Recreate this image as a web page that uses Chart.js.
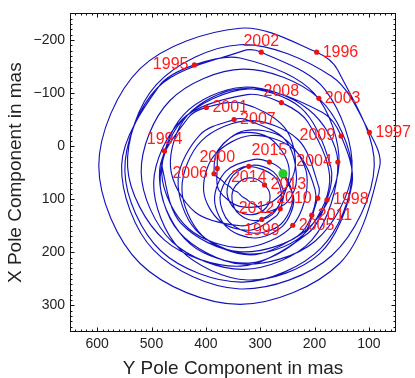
<!DOCTYPE html>
<html>
<head>
<meta charset="utf-8">
<title>Polar motion 1994-2016</title>
<script src="https://cdn.jsdelivr.net/npm/chart.js@4.4.1/dist/chart.umd.min.js"></script>
<style>
  html, body { margin: 0; padding: 0; background: #fff; }
</style>
</head>
<body>
<canvas id="pole-chart" width="415" height="378"></canvas>
<script>
// pole track in mas: Y component (horizontal axis) and X component (vertical axis)
const trackY = [
  476, 481, 446, 337, 215, 155, 201, 337,
  421, 486, 555, 496, 337, 168, 90, 157,
  196, 337, 521, 597, 521, 337, 154, 80,
  99, 168, 337, 491, 544, 476, 336, 212,
  177, 170, 225, 336, 434, 465, 420, 336,
  297, 265, 247, 281, 335, 374,
  379, 376, 335, 275, 236, 255, 334,
  399, 432, 485, 450, 334, 199, 131, 181,
  298, 333, 489, 549, 483, 332, 188, 131,
  192, 332, 466, 519, 462, 331, 205,
  157, 211, 331, 441, 481, 432, 330,
  240, 214, 258, 329, 378,
  385, 378, 371, 364, 356, 349, 341, 333, 325, 317, 308, 299, 290, 250, 233, 254, 326,
  348, 410, 451, 419, 325, 222, 172, 212,
  261, 324, 443, 496, 448, 323, 191, 131,
  151, 186, 322, 443, 484, 429, 320, 225,
  194, 192, 230, 319, 408, 444, 407, 318, 231,
  205, 199, 239, 317, 384, 404, 373, 316, 271,
  263, 257, 276, 315, 350, 361, 345, 315, 289, 282,
  292, 314, 339, 352, 343, 313, 278, 261, 274,
  321, 355, 374, 357, 311, 262, 240, 259,
  283, 311, 363, 384, 362, 310, 259, 238,
  258
];
const trackX = [
  9, 36, 145, 199, 158, 36, -100, -166,
  -153, -113, 36, 196, 269, 206, 37, -143,
  -177, -222, -146, 37, 221, 298, 221, 38,
  -26, -131, -191, -116, 39, 177, 226, 164,
  101, 39, -72, -108, -58, 40, 124, 150,
  138, 111, 41, -14, -25, 3,
  42, 83, 114, 103, 43, -35, -81,
  -73, -54, 44, 161, 222, 179, 46, -107,
  -177, -179, -110, 47, 197, 256, 192, 48,
  -90, -145, -86, 49, 180, 232, 177,
  30, -69, -111, -59, 53, 155, 191,
  149, 55, -16, -29, 8,
  52, 59, 64, 71, 76, 83, 87, 95, 100, 107, 111, 119, 125, 105, 61, -12, -50,
  -50, -22, 63, 157, 203, 168, 66, -45,
  -82, -97, -51, 69, 194, 252, 203, 72,
  -19, -64, -108, -49, 74, 184, 220, 172,
  98, 77, -12, -48, -10, 80, 168, 205, 169,
  130, 82, 5, -20, 17, 85, 142, 158, 132,
  118, 87, 48, 36, 55, 89, 120, 129, 116, 92,
  73, 60, 68, 93, 124, 140, 129, 95, 57,
  38, 54, 97, 143, 164, 147, 98, 47,
  30, 25, 47, 100, 152, 173, 151, 101,
  52
];

// pole position on 1 January of each year
const years = [1994, 1995, 1996, 1997, 1998, 1999, 2000, 2001, 2002, 2003, 2004,
               2005, 2006, 2007, 2008, 2009, 2010, 2011, 2012, 2013, 2014, 2015];
const yearY = [476, 421, 196, 99, 177, 297, 379, 399, 298, 192, 157,
               240, 385, 348, 261, 151, 194, 205, 263, 292, 321, 283];
const yearX = [9, -153, -177, -26, 101, 138, 42, -73, -177, -90, 30,
               149, 52, -50, -82, -19, 98, 130, 118, 73, 38, 30];

// latest position
const latestY = [258];
const latestX = [52];

const xTicks = [100, 200, 300, 400, 500, 600];
const yTicks = [-200, -100, 0, 100, 200, 300];

// where each year label sits relative to its dot
const labelSide = {
  1994: 'above', 1995: 'left', 1996: 'right', 1997: 'right', 1998: 'right',
  1999: 'below', 2000: 'above', 2001: 'right', 2002: 'above', 2003: 'right',
  2004: 'left', 2005: 'right', 2006: 'left', 2007: 'right', 2008: 'above',
  2009: 'left', 2010: 'left', 2011: 'right', 2012: 'left', 2013: 'right',
  2014: 'below', 2015: 'above'
};

const FONT = '"Liberation Sans", Arial, Helvetica, sans-serif';

const toPoints = (xs, ys) => xs.map((v, i) => ({ x: v, y: ys[i] }));

// frame with inward ticks on all four sides, then the year labels on top
const frameAndLabels = {
  id: 'frameAndLabels',
  afterDraw(chart) {
    const { ctx, chartArea: a, scales: { x, y } } = chart;
    const L = Math.round(a.left) + 0.5, R = Math.round(a.right) - 0.5;
    const T = Math.round(a.top) + 0.5, B = Math.round(a.bottom) - 0.5;
    ctx.save();
    ctx.strokeStyle = '#111';
    ctx.lineWidth = 1;
    ctx.strokeRect(L, T, R - L, B - T);
    ctx.beginPath();
    for (let v = 50; v <= 650; v += 10) {
      const px = Math.round(x.getPixelForValue(v)) + 0.5;
      if (px <= L || px >= R) continue;
      const len = v % 100 === 0 ? 4 : 2;
      ctx.moveTo(px, B); ctx.lineTo(px, B - len);
      ctx.moveTo(px, T); ctx.lineTo(px, T + len);
    }
    for (let v = -250; v <= 350; v += 10) {
      const py = Math.round(y.getPixelForValue(v)) + 0.5;
      if (py <= T || py >= B) continue;
      const len = v % 100 === 0 ? 4 : 2;
      ctx.moveTo(L, py); ctx.lineTo(L + len, py);
      ctx.moveTo(R, py); ctx.lineTo(R - len, py);
    }
    ctx.stroke();

    ctx.font = '16px ' + FONT;
    ctx.fillStyle = '#ff1c1c';
    ctx.textBaseline = 'middle';
    years.forEach((yr, i) => {
      const px = x.getPixelForValue(yearY[i]);
      const py = y.getPixelForValue(yearX[i]);
      const side = labelSide[yr];
      if (side === 'right') {
        ctx.textAlign = 'left';
        ctx.fillText(String(yr), px + 6, py);
      } else if (side === 'left') {
        ctx.textAlign = 'right';
        ctx.fillText(String(yr), px - 6, py);
      } else if (side === 'above') {
        ctx.textAlign = 'center';
        ctx.fillText(String(yr), px, py - 11);
      } else {
        ctx.textAlign = 'center';
        ctx.fillText(String(yr), px, py + 11);
      }
    });
    ctx.restore();
  }
};

new Chart(document.getElementById('pole-chart'), {
  type: 'scatter',
  data: {
    datasets: [
      {
        label: 'Pole track',
        data: toPoints(trackY, trackX),
        showLine: true,
        borderColor: '#1212bf',
        borderWidth: 1.15,
        pointRadius: 0,
        tension: 0.33,
        order: 3
      },
      {
        label: '1 January',
        data: toPoints(yearY, yearX),
        backgroundColor: '#e81414',
        borderWidth: 0,
        pointRadius: 2.6,
        order: 1
      },
      {
        label: 'Latest',
        data: toPoints(latestY, latestX),
        backgroundColor: '#22cc22',
        borderWidth: 0,
        pointRadius: 4.5,
        order: 0
      }
    ]
  },
  options: {
    responsive: false,
    animation: false,
    devicePixelRatio: 1,
    layout: { padding: { top: 5, right: 19, left: 0, bottom: 0 } },
    plugins: {
      legend: { display: false },
      tooltip: { enabled: false }
    },
    scales: {
      x: {
        type: 'linear',
        min: 50,
        max: 650,
        reverse: true,
        grid: { display: false, drawTicks: false },
        border: { display: false },
        afterBuildTicks: (axis) => { axis.ticks = xTicks.map(v => ({ value: v })); },
        afterFit: (axis) => { axis.height = 46; },
        ticks: {
          autoSkip: false,
          maxRotation: 0,
          padding: 4,
          color: '#222',
          font: { family: FONT, size: 14 }
        },
        title: {
          display: true,
          text: 'Y Pole Component in mas',
          color: '#222',
          font: { family: FONT, size: 19, lineHeight: 1 },
          padding: { top: 0, bottom: 0 }
        }
      },
      y: {
        type: 'linear',
        min: -250,
        max: 350,
        reverse: true,
        grid: { display: false, drawTicks: false },
        border: { display: false },
        afterBuildTicks: (axis) => { axis.ticks = yTicks.map(v => ({ value: v })); },
        afterFit: (axis) => { axis.width = 70; },
        ticks: {
          autoSkip: false,
          padding: 5,
          color: '#222',
          font: { family: FONT, size: 14 },
          callback: (v) => (v < 0 ? '\u2212' + (-v) : String(v))
        },
        title: {
          display: true,
          text: 'X Pole Component in mas',
          color: '#222',
          font: { family: FONT, size: 19, lineHeight: 1 },
          padding: { top: 6, bottom: 0 }
        }
      }
    }
  },
  plugins: [frameAndLabels]
});
</script>
</body>
</html>
